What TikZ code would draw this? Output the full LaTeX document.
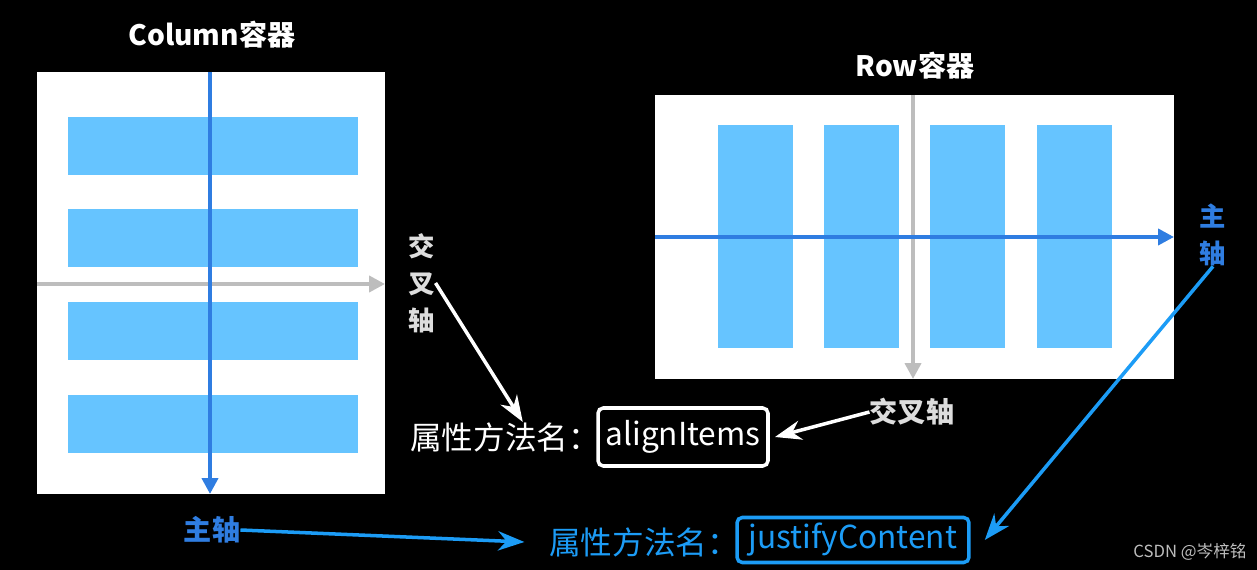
\documentclass[tikz,border=0pt]{standalone}
\usepackage{fontspec}
\newfontfamily\cjk{Noto Sans CJK SC}
\usetikzlibrary{arrows.meta}
\definecolor{barblue}{HTML}{66C4FF}
\definecolor{axisblue}{HTML}{2F7DE1}
\definecolor{linkblue}{HTML}{1C9CF6}
\definecolor{axisgray}{HTML}{BDBDBD}
\definecolor{labelgray}{HTML}{DDDDDD}
\begin{document}
\begin{tikzpicture}[x=0.02cm,y=-0.02cm,
  bar/.style={fill=barblue},
  mainaxis/.style={draw=axisblue,line width=2.2pt,-{Triangle[length=9pt,width=9pt]}},
  crossaxis/.style={draw=axisgray,line width=2.2pt,-{Triangle[length=9pt,width=9pt]}},
  title/.style={text=white,font=\cjk\bfseries\fontsize{16}{18}\selectfont},
  vlabel/.style={font=\cjk\bfseries\fontsize{15}{21}\selectfont,align=center,inner sep=0pt},
  attr/.style={font=\cjk\fontsize{18}{20}\selectfont,inner sep=0pt,anchor=west},
  namebox/.style={font=\cjk\fontsize{18}{20}\selectfont,line width=2pt,rounded corners=3pt,inner sep=0pt},
  pointer/.style={line width=2pt,-{Stealth[length=15pt,width=11pt]}}]
\fill[black] (0,0) rectangle (1257,570);
% Column container
\fill[white] (37,72) rectangle (385,494);
\fill[bar] (68,117) rectangle (358,175);
\fill[bar] (68,209) rectangle (358,267);
\fill[bar] (68,302) rectangle (358,360);
\fill[bar] (68,395) rectangle (358,453);
\draw[crossaxis] (37,284) -- (385,284);
\draw[mainaxis] (210,72) -- (210,494);
\node[title] (coltitle) at (212,35) {Column容器};
% Row container
\fill[white] (655,95) rectangle (1174,379);
\fill[bar] (718,125) rectangle (793,348);
\fill[bar] (824,125) rectangle (899,348);
\fill[bar] (930,125) rectangle (1005,348);
\fill[bar] (1037,125) rectangle (1112,348);
\draw[crossaxis] (913,95) -- (913,379);
\draw[mainaxis] (655,237) -- (1174,237);
\node[title] (rowtitle) at (915,66) {Row容器};
% labels
\node[vlabel,text=labelgray] (crossL) at (422,283) {交\\叉\\轴};
\node[vlabel,text=axisblue] (mainR) at (1213,235) {主\\轴};
\node[vlabel,text=labelgray,font=\cjk\bfseries\fontsize{16}{18}\selectfont] (crossR) at (912,412) {交叉轴};
\node[vlabel,text=axisblue,font=\cjk\bfseries\fontsize{16}{18}\selectfont] (mainL) at (212,530) {主轴};
% property names
\node[attr,text=white] (attrA) at (410,437) {属性方法名：};
\node[namebox,draw=white,text=white,minimum width=3.4cm,minimum height=1.16cm] (alignbox) at (683,437) {alignItems};
\node[attr,text=linkblue] (attrB) at (549,542) {属性方法名：};
\node[namebox,draw=linkblue,text=linkblue,minimum width=4.64cm,minimum height=0.9cm] (justbox) at (853,540) {justifyContent};
% pointers
\draw[pointer,white] (crossL.east) -- ([xshift=10pt]attrA.north);
\draw[pointer,white] (crossR.west) -- ([xshift=3pt]alignbox.east);
\draw[pointer,linkblue] (mainR.south) -- ([xshift=8pt]justbox.east);
\draw[pointer,linkblue] (mainL.east) -- ([xshift=-14pt]attrB.west);
\node[text=axisgray,font=\cjk\fontsize{9.5}{10}\selectfont] (mark) at (1190,552) {CSDN @岑梓铭};
\end{tikzpicture}
\end{document}
